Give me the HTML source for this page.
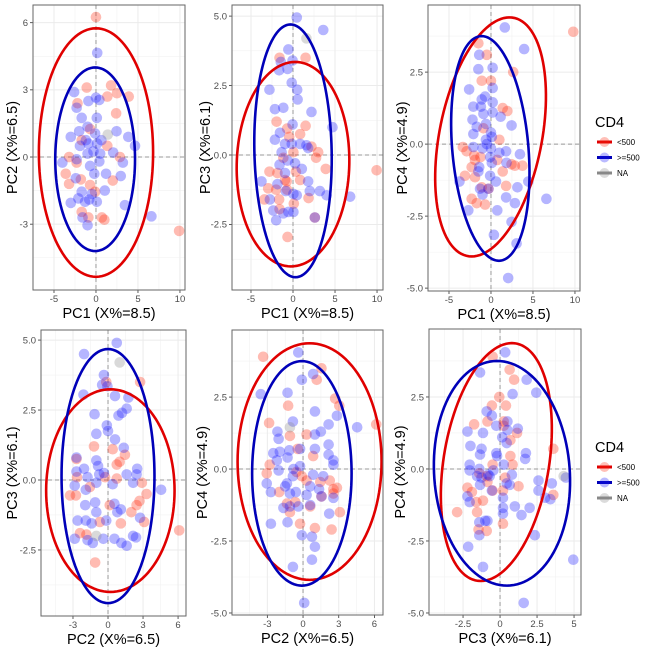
<!DOCTYPE html>
<html><head><meta charset="utf-8"><style>
html,body{margin:0;padding:0;background:#fff;}
svg{display:block;font-family:"Liberation Sans",sans-serif;}
</style></head><body>
<svg id="chart" width="650" height="650" viewBox="0 0 650 650"></svg>
<script>
// ---------- data ----------
const xTicksPC1 = [-5, 0, 5, 10];
const yTicksTL = [-3, 0, 3, 6];
const yTicks25a = [-2.5, 0, 2.5, 5];
const yTicks25b = [-5, -2.5, 0, 2.5];
const xTicksPC2 = [-3, 0, 3, 6];
const xTicksPC3 = [-2.5, 0, 2.5, 5];

const tlRed = [[0,6.25],[1.8,3.2],[2.5,2.85],[3.9,2.7],[-1.1,3.1],[-2.2,2.4],[2.4,1.95],[-3.2,0],[-3.6,-0.75],[-3.2,-1.2],[-1.8,-1.0],[-0.7,-1.25],[-0.1,-1.55],[1.35,0.5],[2.85,0],[2.0,-1.05],[0.7,-2.7],[1.0,-2.8],[-0.9,-2.7],[-1.7,-2.45],[9.9,-3.3],[-1.7,0.75],[-0.7,1.25],[-2.3,-0.25],[1.35,2.7]];
const tlBlue = [[0.15,4.65],[-2.6,2.9],[-2.3,2.2],[-0.9,2.5],[0,2.65],[0.4,2.55],[-1.7,1.75],[0.1,1.75],[-1.0,1.35],[-0.1,1.05],[-3.0,0.9],[-2.0,1.15],[-1.2,0.75],[0.15,0.6],[2.45,1.15],[3.85,0.9],[4.65,0.5],[0.5,0.15],[2.05,0.2],[3.2,-0.25],[-4.0,-0.25],[-2.4,-0.95],[-0.7,-0.4],[0.4,-0.2],[1.2,-0.75],[2.95,-0.85],[-0.2,-0.75],[-1.7,-1.55],[-0.5,-1.65],[1.05,-1.5],[-3.0,-2.05],[-2.1,-1.85],[-1.3,-2.0],[-0.8,-1.9],[0.1,-2.0],[3.45,-2.15],[6.6,-2.65],[-1.6,-2.7],[-1.0,-3.05],[-2.3,-0.1],[-0.3,0.25],[-1.0,0.15],[0.65,0.75],[-0.9,0.6],[-1.9,0.5]];
const tlNA = [[1.4,1.0]];

const tmRed = [[-1.6,3.5],[1.5,3.5],[-1.95,1.2],[-0.7,0.95],[-0.45,0.65],[1.5,1.05],[0.85,0.75],[2.2,0.3],[3.0,0.1],[2.75,-0.1],[3.9,-0.5],[-2.8,-0.6],[-1.85,-0.65],[-0.95,-0.9],[0.35,-0.6],[0.85,-0.9],[-2.0,-1.25],[-0.75,-0.95],[-2.95,-1.2],[-3.4,-1.6],[-1.65,-1.6],[-0.7,-1.25],[1.85,-1.55],[0.1,-1.75],[-1.6,-1.95],[-0.65,-2.95],[2.6,-2.25],[9.95,-0.55],[-1.15,-0.1],[0.05,0.1]];
const tmBlue = [[0.45,4.95],[3.6,4.5],[-0.55,3.8],[-1.45,3.35],[-0.05,3.4],[-1.65,3.05],[-0.65,3.1],[-0.15,2.6],[0.5,2.35],[-2.8,2.35],[0.55,2.0],[-2.15,1.65],[-1.15,1.7],[2.2,1.55],[-0.05,1.1],[4.7,1.0],[-1.55,0.8],[-2.15,0.55],[-0.95,0.4],[-0.15,0.4],[0.85,0.4],[1.8,0.25],[-1.35,0.1],[0.25,-0.3],[1.05,-0.5],[-1.6,-0.35],[-0.95,-0.65],[-3.75,-0.95],[-2.75,-1.6],[-1.85,-1.05],[-0.85,-1.3],[0.05,-1.4],[0.45,-1.45],[1.8,-0.95],[2.0,-1.3],[3.2,-1.3],[4.0,-1.45],[6.8,-1.5],[-2.35,-2.0],[-2.0,-2.35],[-1.15,-2.1],[-0.55,-2.05],[0.05,-2.05],[2.6,-2.25],[-0.65,-0.2],[1.6,0.35]];
const tmNA = [[1.6,4.2]];

const trRed = [[9.8,3.9],[-1.5,3.5],[-0.5,3.1],[2.65,2.5],[-1.1,2.2],[0,2.2],[1.4,1.25],[1.95,1.15],[1.0,0.15],[-3.35,-0.1],[-2.9,-0.25],[-2.0,-0.4],[-1.9,-0.55],[-1.25,-0.45],[-2.3,-0.8],[0.75,-0.55],[1.4,-0.95],[2.45,-0.7],[2.85,-0.75],[3.75,-0.75],[-3.1,-1.1],[-1.9,-1.15],[-0.3,-1.55],[1.8,-1.45],[-2.3,-1.9],[-1.7,-2.05],[-0.7,-2.1],[-0.9,0.55],[-1.1,-1.5]];
const trBlue = [[1.65,4.05],[3.95,3.3],[-1.4,3.1],[-1.5,2.6],[0.2,2.65],[-2.6,1.9],[0.2,1.95],[-0.7,1.65],[-1.1,1.55],[0.2,1.45],[-2.1,1.3],[-1.2,1.3],[-0.9,1.05],[1.15,0.95],[-2.2,0.85],[0.2,1.1],[-1.7,0.6],[-0.6,0.7],[2.45,0.65],[-2.1,0.35],[0,0.4],[0.1,0.25],[-2.1,-0.1],[-1.0,-0.15],[-0.5,0],[0,-0.15],[1.0,-0.3],[1.8,-0.25],[3.45,-0.35],[-1.4,-0.8],[-1.5,-0.95],[-0.1,-1.1],[0.1,-0.65],[1.85,-0.65],[0.6,-1.3],[-3.75,-1.3],[-1.3,-1.55],[-0.3,-1.55],[1.8,-1.85],[3.15,-1.5],[-1.0,-1.75],[2.85,-2.05],[-2.7,-2.3],[0.75,-2.3],[6.6,-1.9],[4.45,-1.3],[2.45,-2.7],[0.35,-3.15],[3.05,-3.45],[2.05,-4.65],[-0.1,-0.45],[-0.6,0.15]];
const trNA = [];

const blRed = [[-2.65,0.1],[-3.25,-0.55],[-2.75,-0.55],[-1.2,1.2],[-2.7,0.75],[-0.15,3.5],[2.75,3.5],[0.4,1.1],[1.0,0.65],[0.75,0.05],[2.9,-0.1],[2.45,-0.9],[3.3,-0.5],[2.7,-0.75],[3.1,-1.5],[2.0,-1.15],[-2.4,-1.9],[-1.85,-1.95],[-0.7,-1.5],[0.15,-0.9],[1.1,-1.55],[-1.1,-2.95],[-0.25,0.1],[-1.55,-0.25],[0.75,0.55],[1.45,0.9],[6.1,-1.8]];
const blBlue = [[0.75,4.9],[-2.05,4.5],[-0.35,3.75],[-0.5,3.4],[-0.05,3.35],[0.6,3.0],[-2.1,3.05],[1.75,2.95],[0.9,2.3],[1.6,2.55],[-1.15,2.35],[1.2,2.4],[-0.1,1.95],[-1.0,1.65],[0,1.75],[0.6,1.45],[1.35,1.15],[-2.7,0.8],[-2.7,0.3],[-2.05,0.4],[-1.0,0.7],[-0.85,0.5],[-0.35,0.25],[0.4,-0.15],[1.6,0.2],[2.15,-0.1],[2.5,0.4],[2.45,0.2],[4.55,-0.35],[-2.85,-0.2],[-1.9,-0.35],[-1.0,-0.1],[-1.95,-0.9],[-1.0,-1.15],[-0.15,-1.45],[0.55,-0.85],[0.8,-1.15],[1.1,-1.05],[-1.1,-0.8],[-2.6,-1.45],[-1.9,-1.45],[-1.4,-1.55],[-2.85,-2.1],[-1.75,-2.15],[-1.3,-2.25],[-0.4,-2.1],[0.55,-2.1],[1.15,-2.25],[1.6,-2.35],[2.15,-2.0],[2.4,-2.05],[2.75,-1.35],[-1.75,0.1],[-0.75,0.2]];
const blNA = [[1.0,4.2],[-1.0,-2.0]];

const bmRed = [[-3.35,3.9],[1.55,3.5],[1.15,3.1],[-1.25,2.2],[2.7,2.45],[3.05,2.2],[-2.85,1.6],[-1.1,1.15],[0.3,1.2],[-0.45,0.7],[0.85,0.45],[-0.55,-0.1],[-0.1,-0.25],[-2.8,0.15],[-3.05,-0.15],[-2.0,-0.8],[-1.35,-1.2],[-0.65,-1.15],[-1.1,-1.5],[1.55,-0.95],[2.85,-0.65],[2.25,-0.4],[2.55,-0.85],[3.1,-1.5],[2.4,-2.1],[-0.25,-1.9],[0.6,-1.3],[6.15,1.55],[2.55,-0.7],[1.45,-0.45],[1.0,-2.05],[0.3,-0.4]];
const bmBlue = [[-0.4,4.05],[-0.1,3.1],[0.85,3.3],[-3.55,2.6],[-1.3,2.65],[1.0,2.0],[2.85,1.85],[-0.85,1.65],[2.15,1.55],[4.55,1.45],[-2.15,1.3],[1.0,1.2],[1.5,1.3],[-2.05,1.05],[2.15,0.85],[-2.5,0.55],[-1.95,0.6],[-1.15,0.65],[-0.25,0.7],[1.0,0.7],[2.15,0.5],[-2.2,0.3],[-1.3,0.4],[-0.8,0],[-0.25,0.1],[0.85,-0.2],[1.7,-0.25],[2.55,0.3],[2.55,0.15],[-3.05,-0.5],[-2.7,-0.8],[-2.05,-0.05],[-1.5,-0.6],[-0.85,-0.25],[-1.1,-0.85],[-0.6,-0.8],[0.3,-0.9],[1.35,-0.7],[1.55,-0.95],[2.55,-1.0],[-1.65,-1.35],[-1.1,-1.3],[-0.4,-1.3],[0.6,-1.25],[2.2,-1.55],[-2.7,-1.9],[-1.3,-1.85],[-0.1,-2.3],[0.75,-2.35],[1.0,-2.7],[0.75,-3.15],[-0.85,-3.4],[0.1,-4.65],[-1.35,-0.5],[0.6,-0.6]];
const bmNA = [[-1.1,1.45]];

const brRed = [[-0.5,3.9],[0.65,3.45],[0.95,3.1],[-0.05,2.5],[0.4,2.2],[-0.55,2.2],[-1.75,1.55],[-0.85,1.65],[1.15,1.25],[0.7,1.0],[0.25,1.5],[-0.5,0.15],[0.7,0.45],[0.85,0.15],[1.25,-0.6],[-2.2,-0.65],[-1.9,-0.8],[-1.4,-0.15],[-0.9,-0.25],[-0.85,-0.45],[-0.5,-0.75],[0.2,-0.75],[0.35,-0.3],[-2.9,-1.5],[-1.6,-1.15],[-1.15,-1.1],[-1.55,-1.5],[-1.45,-2.1],[-0.9,-2.15],[0.2,-1.9],[3.6,0.7],[3.6,-0.9],[0.25,1.65]];
const brBlue = [[0.35,4.05],[-1.35,3.35],[1.8,3.1],[0.85,2.6],[2.45,2.65],[-0.9,2.0],[-0.55,1.85],[-2.2,1.3],[-1.15,1.25],[-0.25,1.5],[0.5,1.65],[0.5,1.35],[1.2,1.4],[0.15,1.1],[0.45,0.9],[-2.0,0.8],[-1.35,0.5],[-1.25,0.7],[-0.25,0.55],[-0.2,0.45],[1.75,0.55],[1.7,0.35],[-2.05,0.15],[-2.05,-0.05],[-1.4,0],[-1.55,-0.25],[-0.7,-0.25],[0.25,0.15],[0.8,-0.2],[0.45,-0.5],[0.65,-0.55],[2.6,-0.4],[2.6,-0.75],[3.5,-0.5],[3.4,-1.05],[3.05,-1.0],[4.45,-0.3],[-2.2,-0.95],[-2.05,-1.15],[-1.35,-0.55],[-1.25,-0.3],[-0.8,-0.2],[0.2,-1.0],[0.2,-1.35],[0.2,-1.55],[1.0,-1.3],[1.45,-1.6],[2.0,-1.35],[-1.4,-1.85],[-1.0,-1.8],[-0.85,-1.8],[-1.4,-2.3],[2.35,-2.3],[-2.15,-2.7],[-1.15,-3.4],[4.95,-3.15],[1.6,-4.65],[-0.55,-0.75],[-0.45,-0.05]];
const brNA = [[4.3,-0.25]];

// ellipse params: [cx, cy, ux, uy, vx, vy]
const tlEllRed = [0,0.2,6.8,0,0,5.55];
const tlEllBlue = [-0.1,-0.1,4.75,0,0,4.1];
const tmEllRed = [0,-0.33,6.7,0,0.25,3.68];
const tmEllBlue = [0,0.15,4.6,0,-0.3,4.55];
const trEllRed = [-0.05,0.25,6.2,0,2.25,4.15];
const trEllBlue = [-0.08,-0.15,4.55,0,-1.03,3.9];
const blEllRed = [0.2,-0.38,5.5,0,0,3.62];
const blEllBlue = [0,0.14,3.98,0,0,4.54];
const bmEllRed = [0.55,0.26,6.05,0,0,4.11];
const bmEllBlue = [-0.1,-0.15,4.18,0,0,3.9];
const brEllRed = [-0.25,0.24,3.6,0,1.05,4.13];
const brEllBlue = [0.13,-0.15,4.59,0,-0.33,3.9];

const xLabels = ["PC1 (X%=8.5)","PC1 (X%=8.5)","PC1 (X%=8.5)","PC2 (X%=6.5)","PC2 (X%=6.5)","PC3 (X%=6.1)"];
const yLabels = ["PC2 (X%=6.5)","PC3 (X%=6.1)","PC4 (X%=4.9)","PC3 (X%=6.1)","PC4 (X%=4.9)","PC4 (X%=4.9)"];
const legendLabels = ["<500", ">=500", "NA"];

// ---------- layout ----------
const panels = [
 {id:"pc1-pc2", box:[33,5,185,290], xd:[-7.5,10.6], yd:[-5.94,6.79], xt:xTicksPC1, yt:yTicksTL, yfmt:0, red:tlRed, blue:tlBlue, na:tlNA, er:tlEllRed, eb:tlEllBlue, ytx:12},
 {id:"pc1-pc3", box:[232,5,383,290], xd:[-7.26,10.71], yd:[-4.86,5.4], xt:xTicksPC1, yt:yTicks25a, yfmt:1, red:tmRed, blue:tmBlue, na:tmNA, er:tmEllRed, eb:tmEllBlue, ytx:205},
 {id:"pc1-pc4", box:[428,5,580,291], xd:[-7.5,10.6], yd:[-5.1,4.83], xt:xTicksPC1, yt:yTicks25b, yfmt:1, red:trRed, blue:trBlue, na:trNA, er:trEllRed, eb:trEllBlue, ytx:402},
 {id:"pc2-pc3", box:[41,330,186,616], xd:[-5.74,6.68], yd:[-4.86,5.36], xt:xTicksPC2, yt:yTicks25a, yfmt:1, red:blRed, blue:blBlue, na:blNA, er:blEllRed, eb:blEllBlue, ytx:12},
 {id:"pc2-pc4", box:[232,330,383,615], xd:[-5.97,6.72], yd:[-5.07,4.83], xt:xTicksPC2, yt:yTicks25b, yfmt:1, red:bmRed, blue:bmBlue, na:bmNA, er:bmEllRed, eb:bmEllBlue, ytx:202},
 {id:"pc3-pc4", box:[429,329,581,615], xd:[-4.8,5.47], yd:[-5.07,4.86], xt:xTicksPC3, yt:yTicks25b, yfmt:1, red:brRed, blue:brBlue, na:brNA, er:brEllRed, eb:brEllBlue, ytx:400}
];

const NS = "http://www.w3.org/2000/svg";
const svg = document.getElementById("chart");
function mk(tag, attrs, parent){
  const e = document.createElementNS(NS, tag);
  for (const k in attrs) e.setAttribute(k, attrs[k]);
  (parent||svg).appendChild(e);
  return e;
}
function fmt(v, d){ return d ? v.toFixed(1) : String(v); }

panels.forEach((p, i) => {
  const [L,T,R,B] = p.box;
  const sx = v => L + (v - p.xd[0]) / (p.xd[1] - p.xd[0]) * (R - L);
  const sy = v => B - (v - p.yd[0]) / (p.yd[1] - p.yd[0]) * (B - T);
  const g = mk("g", {});
  
  
  mk("rect", {x:L, y:T, width:R-L, height:B-T, fill:"#fff"}, g);
  const xstep = p.xt[1]-p.xt[0], ystep = p.yt[1]-p.yt[0];
  for (let v = p.xt[0]-xstep*1.5; v <= p.xt[p.xt.length-1]+xstep; v += xstep) {
    if (v > p.xd[0] && v < p.xd[1]) mk("line", {x1:sx(v),x2:sx(v),y1:T,y2:B,stroke:"#f2f2f2","stroke-width":0.6}, g);
  }
  for (let v = p.yt[0]-ystep*1.5; v <= p.yt[p.yt.length-1]+ystep; v += ystep) {
    if (v > p.yd[0] && v < p.yd[1]) mk("line", {x1:L,x2:R,y1:sy(v),y2:sy(v),stroke:"#f2f2f2","stroke-width":0.6}, g);
  }
  p.xt.forEach(v => {
    mk("line", {x1:sx(v),x2:sx(v),y1:T,y2:B,stroke:"#ebebeb","stroke-width":1}, g);
    mk("line", {x1:sx(v),x2:sx(v),y1:B,y2:B+3,stroke:"#333","stroke-width":0.8}, g);
    const t = mk("text", {x:sx(v), y:B+12, "text-anchor":"middle", "font-size":9.5, fill:"#4d4d4d"}, g);
    t.textContent = String(v);
    
    
  });
  p.yt.forEach(v => {
    mk("line", {x1:L,x2:R,y1:sy(v),y2:sy(v),stroke:"#ebebeb","stroke-width":1}, g);
    mk("line", {x1:L-3,x2:L,y1:sy(v),y2:sy(v),stroke:"#333","stroke-width":0.8}, g);
    const t = mk("text", {x:L-5, y:sy(v)+3.3, "text-anchor":"end", "font-size":9.5, fill:"#4d4d4d"}, g);
    t.textContent = fmt(v, p.yfmt);
    
    
  });
  mk("line", {x1:sx(0),x2:sx(0),y1:T,y2:B,stroke:"#999","stroke-width":1,"stroke-dasharray":"4,3"}, g);
  mk("line", {x1:L,x2:R,y1:sy(0),y2:sy(0),stroke:"#999","stroke-width":1,"stroke-dasharray":"4,3"}, g);
  const drawPts = (arr, color, name) => arr.forEach(d => {
    const c = mk("circle", {cx:sx(d[0]), cy:sy(d[1]), r:5.3, fill:color, "fill-opacity":0.32}, g);
    
    
  });
  drawPts(p.red, "#ff2a10", "point-cd4-lt500");
  drawPts(p.blue, "#1a1aff", "point-cd4-ge500");
  drawPts(p.na, "#888888", "point-cd4-na");
  const drawEll = (e, color, name) => {
    let dstr = "";
    for (let k = 0; k <= 120; k++) {
      const t = k / 120 * 2 * Math.PI;
      const x = e[0] + e[2]*Math.cos(t) + e[4]*Math.sin(t);
      const y = e[1] + e[3]*Math.cos(t) + e[5]*Math.sin(t);
      dstr += (k ? "L" : "M") + sx(x).toFixed(2) + "," + sy(y).toFixed(2);
    }
    const pa = mk("path", {d:dstr+"Z", fill:"none", stroke:color, "stroke-width":2.6}, g);
    
    
  };
  drawEll(p.er, "#e00000", "ellipse-cd4-lt500");
  drawEll(p.eb, "#0000b8", "ellipse-cd4-ge500");
  mk("rect", {x:L, y:T, width:R-L, height:B-T, fill:"none", stroke:"#666", "stroke-width":1}, g);
  const xt = mk("text", {x:(L+R)/2, y:B+28, "text-anchor":"middle", "font-size":14.5, fill:"#000"}, g);
  xt.textContent = xLabels[i];
  
  
  const cy = (T+B)/2;
  const yt = mk("text", {x:p.ytx, y:cy, "text-anchor":"middle", "font-size":14.5, fill:"#000", transform:`rotate(-90 ${p.ytx} ${cy})`, dy:"5"}, g);
  yt.textContent = yLabels[i];
  
  
});

const legendColors = ["#e00000", "#0000b8", "#888888"];
const legendDots = ["#ff2a10", "#1a1aff", "#888888"];
[[595,122,142],[595,447,467]].forEach((pos, li) => {
  const g = mk("g", {});
  
  
  const t = mk("text", {x:pos[0], y:pos[1]+5, "font-size":14.5, fill:"#000"}, g);
  t.textContent = "CD4";
  
  
  legendLabels.forEach((lab, k) => {
    const y = pos[2] + k*15.5;
    const e = mk("g", {}, g);
    
    
    mk("line", {x1:597,x2:612,y1:y,y2:y,stroke:legendColors[k],"stroke-width":3}, e);
    mk("circle", {cx:604.5, cy:y, r:5, fill:legendDots[k], "fill-opacity":0.3}, e);
    const tt = mk("text", {x:617, y:y+3, "font-size":8, fill:"#000"}, e);
    tt.textContent = lab;
  });
});
</script>
</body></html>
